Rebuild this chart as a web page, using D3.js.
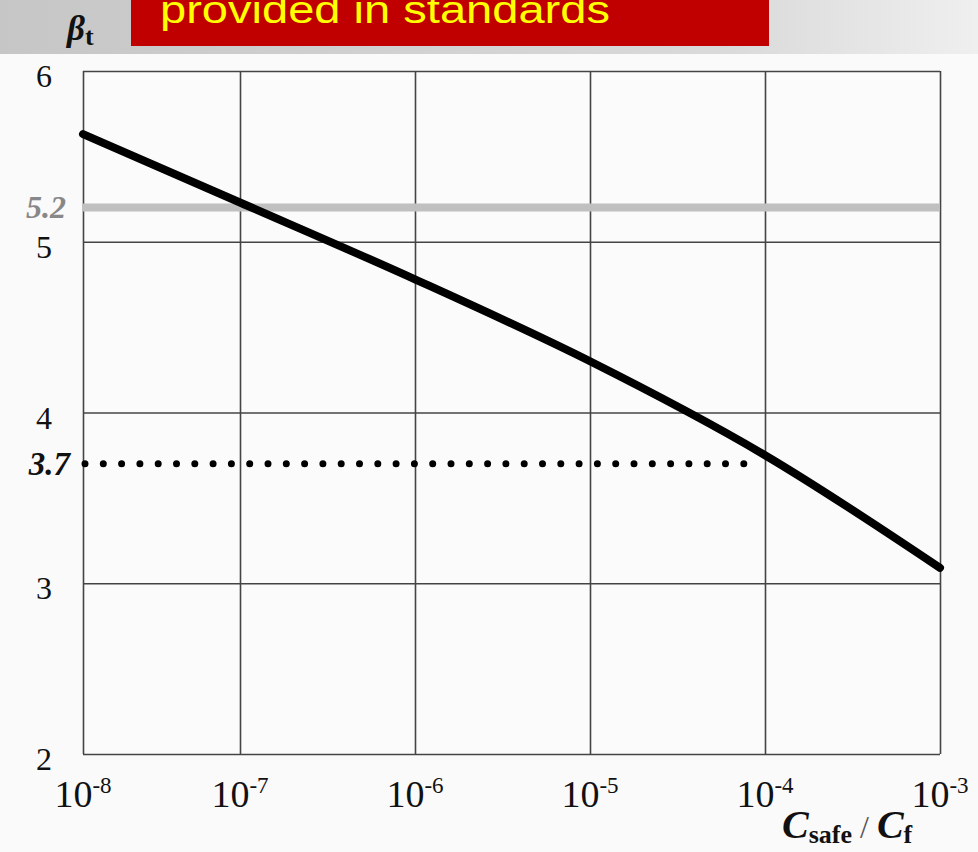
<!DOCTYPE html>
<html>
<head>
<meta charset="utf-8">
<script src="https://cdn.jsdelivr.net/npm/d3@7"></script>
<style>
  html, body { margin: 0; padding: 0; background: #fafafa; }
  svg { display: block; }
</style>
</head>
<body>
<script>
// chart data
const xTicks = [1e-8, 1e-7, 1e-6, 1e-5, 1e-4, 1e-3];
const xTickExp = ["-8", "-7", "-6", "-5", "-4", "-3"];
const yTicks = [2, 3, 4, 5, 6];
const curveRatio = [1e-8, 1e-7, 1e-6, 1e-5, 1e-4, 1e-3];
const curveBeta = [5.63, 5.23, 4.78, 4.30, 3.75, 3.09];
const upperBeta = 5.2;
const lowerBeta = 3.7;
const lowerEnd = 8e-5;
const headerText = "provided in standards";

const W = 978, H = 852;
const plotLeft = 83, plotRight = 940, plotTop = 71, plotBottom = 754;
const firstDecade = 240; // the first decade is drawn a bit narrower in the original

const svg = d3.select("body").append("svg")
    .attr("width", W)
    .attr("height", H);

// header band gradient
const defs = svg.append("defs");
const grad = defs.append("linearGradient").attr("id", "band")
    .attr("x1", 0).attr("x2", 1).attr("y1", 0).attr("y2", 0);
grad.append("stop").attr("offset", "0%").attr("stop-color", "#c6c6c6");
grad.append("stop").attr("offset", "75%").attr("stop-color", "#dadada");
grad.append("stop").attr("offset", "100%").attr("stop-color", "#efefef");

svg.append("rect")
    .attr("x", 0).attr("y", 0)
    .attr("width", W).attr("height", 54)
    .attr("fill", "url(#band)");

svg.append("rect")
    .attr("x", 131).attr("y", 0)
    .attr("width", 638).attr("height", 46)
    .attr("fill", "#c00000");

// the banner text is cut by the top edge, as in the original slide
svg.append("text")
    .attr("x", 160).attr("y", 23)
    .attr("font-family", "Liberation Sans, Arial, sans-serif")
    .attr("font-size", 38)
    .attr("fill", "#ffff00")
    .attr("textLength", 450)
    .attr("lengthAdjust", "spacingAndGlyphs")
    .text(headerText);

// beta_t label
const bt = svg.append("text")
    .attr("x", 67).attr("y", 40)
    .attr("font-family", "Liberation Serif, Times New Roman, serif")
    .attr("font-weight", "bold")
    .attr("fill", "#111");
bt.append("tspan").attr("font-size", 35).attr("font-style", "italic").text("β");
bt.append("tspan").attr("font-size", 26).attr("dy", 5).text("t");

// scales
const x = d3.scaleLog()
    .domain([1e-8, 1e-7, 1e-3])
    .range([plotLeft, firstDecade, plotRight]);
const y = d3.scaleLinear().domain([2, 6]).range([plotBottom, plotTop]);

// plot background
svg.append("rect")
    .attr("x", plotLeft).attr("y", plotTop)
    .attr("width", plotRight - plotLeft).attr("height", plotBottom - plotTop)
    .attr("fill", "#fbfbfb");

// grid
const grid = svg.append("g");
grid.append("g")
    .attr("transform", `translate(0,${plotBottom})`)
    .call(d3.axisBottom(x).tickValues(xTicks).tickSize(-(plotBottom - plotTop)).tickFormat(""))
    .call(g => g.select(".domain").remove())
    .call(g => g.selectAll("line").attr("stroke", "#444").attr("stroke-width", 1.6));
grid.append("g")
    .attr("transform", `translate(${plotLeft},0)`)
    .call(d3.axisLeft(y).tickValues(yTicks).tickSize(-(plotRight - plotLeft)).tickFormat(""))
    .call(g => g.select(".domain").remove())
    .call(g => g.selectAll("line").attr("stroke", "#444").attr("stroke-width", 1.6));

// y tick labels
svg.append("g").selectAll("text")
    .data(yTicks)
    .join("text")
    .attr("x", 52)
    .attr("y", d => y(d) + 16)
    .attr("text-anchor", "end")
    .attr("font-family", "Liberation Serif, Times New Roman, serif")
    .attr("font-size", 32)
    .attr("fill", "#111")
    .text(d => d);

// x tick labels 10^n
const xl = svg.append("g").selectAll("text")
    .data(xTicks)
    .join("text")
    .attr("x", d => x(d))
    .attr("y", 807)
    .attr("text-anchor", "middle")
    .attr("font-family", "Liberation Serif, Times New Roman, serif")
    .attr("fill", "#111");
xl.append("tspan").attr("font-size", 38).text("10");
xl.append("tspan").attr("font-size", 23).attr("dy", -14).text((d, i) => xTickExp[i]);

// upper target line 5.2
svg.append("line")
    .attr("x1", x(1e-8)).attr("x2", x(1e-3))
    .attr("y1", y(upperBeta)).attr("y2", y(upperBeta))
    .attr("stroke", "#c0c0c0")
    .attr("stroke-width", 8);

svg.append("text")
    .attr("x", 66).attr("y", y(upperBeta) + 10)
    .attr("text-anchor", "end")
    .attr("font-family", "Liberation Serif, Times New Roman, serif")
    .attr("font-size", 32)
    .attr("font-style", "italic")
    .attr("font-weight", "bold")
    .attr("fill", "#888")
    .text(upperBeta);

// lower target dotted line 3.7
svg.append("line")
    .attr("x1", x(1e-8) + 2).attr("x2", x(lowerEnd))
    .attr("y1", y(lowerBeta)).attr("y2", y(lowerBeta))
    .attr("stroke", "#000")
    .attr("stroke-width", 7)
    .attr("stroke-linecap", "round")
    .attr("stroke-dasharray", "0 18.3");

svg.append("text")
    .attr("x", 70).attr("y", y(lowerBeta) + 11)
    .attr("text-anchor", "end")
    .attr("font-family", "Liberation Serif, Times New Roman, serif")
    .attr("font-size", 33)
    .attr("font-style", "italic")
    .attr("font-weight", "bold")
    .attr("fill", "#111")
    .text(lowerBeta);

// beta curve
const pts = curveRatio.map((r, i) => ({ r: r, b: curveBeta[i] }));
svg.append("path")
    .datum(pts)
    .attr("fill", "none")
    .attr("stroke", "#000")
    .attr("stroke-width", 8)
    .attr("stroke-linecap", "round")
    .attr("d", d3.line()
        .x(d => x(d.r))
        .y(d => y(d.b))
        .curve(d3.curveMonotoneX));

// x axis title
const xt = svg.append("text")
    .attr("x", 782).attr("y", 838)
    .attr("font-family", "Liberation Serif, Times New Roman, serif")
    .attr("fill", "#111");
xt.append("tspan").attr("font-size", 40).attr("font-style", "italic").attr("font-weight", "bold").text("C");
xt.append("tspan").attr("font-size", 26).attr("font-weight", "bold").attr("dy", 5).text("safe");
xt.append("tspan").attr("font-size", 32).attr("dy", -5).attr("fill", "#555").text(" / ");
xt.append("tspan").attr("font-size", 40).attr("font-style", "italic").attr("font-weight", "bold").text("C");
xt.append("tspan").attr("font-size", 26).attr("font-weight", "bold").attr("dy", 5).text("f");
</script>
</body>
</html>
